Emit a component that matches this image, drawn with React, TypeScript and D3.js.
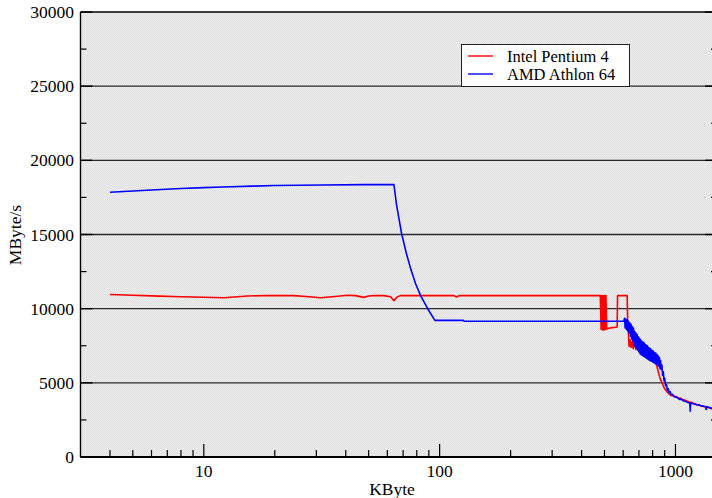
import React from "react";
import * as d3 from "d3";

// ---------- data ----------
const intelKB = [4, 5, 6, 8, 10, 12.2, 15.3, 18.7, 24, 28, 31.3, 36, 40.7, 44, 47.6, 50, 52.5, 58, 62, 64, 66, 68, 100, 115, 118, 121, 200, 300, 400, 480,
  484, 486, 490, 493, 497, 500, 504, 507, 511, 514, 520, 540, 560, 566, 568, 590, 610, 624, 627,
  632, 636, 642, 648, 655, 662, 670, 680, 690, 700, 712, 725, 740, 755, 770, 785, 800, 815, 825, 835, 845, 855, 865, 878, 890, 905, 920, 940, 955, 975,
  1000, 1010, 1030, 1050, 1070, 1090, 1110, 1140, 1170, 1200, 1235, 1270, 1300, 1340, 1380, 1410, 1440];
const intelMBs = [10950, 10900, 10860, 10800, 10770, 10740, 10850, 10890, 10880, 10800, 10740, 10820, 10900, 10880, 10760, 10850, 10880, 10880, 10800, 10540, 10780, 10880, 10880, 10880, 10790, 10880, 10880, 10880, 10880, 10880,
  8600, 10880, 8580, 10880, 8550, 10880, 8600, 10880, 8620, 8650, 8680, 8720, 8750, 8760, 10880, 10880, 10880, 10880, 9150,
  8300, 7450, 7900, 7400, 7800, 7300, 7650, 7250, 7500, 7100, 7300, 6900, 7050, 6750, 6850, 6550, 6600, 6350, 6300, 6100, 5750, 5450, 5200, 5000, 4750, 4550, 4400, 4250, 4150, 4150,
  4050, 4080, 3950, 3970, 3880, 3850, 3800, 3720, 3680, 3600, 3520, 3480, 3420, 3380, 3320, 3280, 3250];

const amdKB = [4, 5, 6, 8, 10, 12, 16, 20, 32, 48, 64, 65.6, 69, 72.2, 75.5, 79, 83.3, 89.5, 95.5, 126, 127, 300, 500,
  604, 608, 612, 616, 620, 624, 628, 632, 636, 640, 644, 648, 652, 656, 660, 664, 668, 672, 676, 680, 684, 688, 692, 696, 700, 704, 708, 712, 716, 720,
  724, 728, 732, 736, 740, 744, 748, 752, 756, 760, 764, 768, 772, 776, 780, 785, 790, 795, 800, 805, 810, 815, 820, 825, 830, 835, 840, 845, 850, 855, 860, 865, 870,
  876, 882, 888, 894, 900, 908, 916, 924, 932, 940, 950, 960, 972, 985,
  1000, 1020, 1040, 1060, 1080, 1100, 1125, 1150, 1155, 1160, 1175, 1200, 1230, 1260, 1290, 1320, 1340, 1350, 1360, 1380, 1400, 1420, 1440];
const amdMBs = [17850, 17930, 18000, 18100, 18160, 18200, 18260, 18300, 18340, 18360, 18370, 17030, 15050, 13750, 12650, 11700, 10830, 9930, 9210, 9210, 9150, 9150, 9150,
  9150, 9350, 8700, 9300, 8600, 9250, 8500, 9150, 8350, 9050, 8150, 8950, 7950, 8800, 7800, 8700, 7500, 8450, 7450, 8350, 7300, 8250, 7200, 8100, 7100, 8000, 6950, 7900, 6900, 7800,
  6850, 7750, 6800, 7700, 6750, 7600, 6700, 7550, 6650, 7500, 6600, 7400, 6550, 7350, 6500, 7300, 6450, 7200, 6400, 7150, 6350, 7050, 6300, 7000, 6250, 6900, 6200, 6800, 6100, 6700, 5950, 6500, 5900,
  6200, 5500, 5750, 5150, 5300, 4800, 4900, 4500, 4600, 4350, 4400, 4200, 4220, 4080,
  4050, 4000, 3880, 3900, 3780, 3760, 3680, 3650, 3080, 3650, 3620, 3580, 3520, 3500, 3440, 3430, 3380, 3200, 3400, 3350, 3340, 3280, 3300];

const yTicks = [0, 5000, 10000, 15000, 20000, 25000, 30000];
const yMinorTicks = [2500, 7500, 12500, 17500, 22500, 27500];
const xMajorTicks = [10, 100, 1000];
const xMinorTicks = [4, 5, 6, 7, 8, 9, 20, 30, 40, 50, 60, 70, 80, 90, 200, 300, 400, 500, 600, 700, 800, 900];
const seriesNames = ["Intel Pentium 4", "AMD Athlon 64"];
const seriesColors = ["#ff0000", "#0000ff"];

// ---------- layout ----------
const W = 712, H = 498;
const L = 80.5, R = 717, T = 12, B = 457;
const FONT = "'Liberation Serif', 'Times New Roman', serif";

export default function App() {
  React.useEffect(() => {
    document.body.style.margin = "0";
  }, []);
  const x = d3.scaleLog().domain([3, 1500]).range([L, R]);
  const y = d3.scaleLinear().domain([0, 30000]).range([B, T]);
  const line = d3.line<[number, number]>().x(d => x(d[0])).y(d => y(d[1]));
  const intel = intelKB.map((k, i) => [k, intelMBs[i]] as [number, number]);
  const amd = amdKB.map((k, i) => [k, amdMBs[i]] as [number, number]);

  return (
    <svg width={W} height={H} style={{ position: "absolute", left: 0, top: 0, display: "block" }} fontFamily={FONT}>
      <defs>
        <pattern id="bgpat" width="2" height="2" patternUnits="userSpaceOnUse">
          <rect width="2" height="2" fill="#f1f1f1" />
          <rect x="0" y="0" width="1" height="1" fill="#dcdcdc" />
          <rect x="1" y="1" width="1" height="1" fill="#dcdcdc" />
        </pattern>
        <clipPath id="plotclip">
          <rect x={L} y={T} width={R - L} height={B - T} />
        </clipPath>
      </defs>
      <rect x={0} y={0} width={W} height={H} fill="#fff" />
      <rect x={L} y={T} width={R - L} height={B - T} fill="url(#bgpat)" />

      {/* grid lines */}
      {yTicks.filter(v => v > 0 && v < 30000).map(v => (
        <line key={"g" + v} x1={L} x2={R} y1={y(v)} y2={y(v)} stroke="#2a2a2a" strokeWidth={1.4} />
      ))}

      {/* y ticks */}
      {yTicks.map(v => (
        <g key={"yt" + v}>
          <line x1={L} x2={L + 12} y1={y(v)} y2={y(v)} stroke="#000" strokeWidth={1.4} />
          <line x1={R - 12} x2={R} y1={y(v)} y2={y(v)} stroke="#000" strokeWidth={1.4} />
          <text x={74} y={y(v)} dy="0.35em" textAnchor="end" fontSize={17.5}>{v}</text>
        </g>
      ))}
      {yMinorTicks.map(v => (
        <g key={"ym" + v}>
          <line x1={L} x2={L + 6} y1={y(v)} y2={y(v)} stroke="#000" strokeWidth={1.2} />
          <line x1={R - 6} x2={R} y1={y(v)} y2={y(v)} stroke="#000" strokeWidth={1.2} />
        </g>
      ))}

      {/* x ticks */}
      {xMajorTicks.map(v => (
        <g key={"xt" + v}>
          <line x1={x(v)} x2={x(v)} y1={B} y2={B - 13} stroke="#000" strokeWidth={1.2} />
          <text x={x(v)} y={477} textAnchor="middle" fontSize={17.5}>{v}</text>
        </g>
      ))}
      {xMinorTicks.map(v => (
        <line key={"xm" + v} x1={x(v)} x2={x(v)} y1={B} y2={B - 7} stroke="#000" strokeWidth={1.2} />
      ))}

      {/* series */}
      <g clipPath="url(#plotclip)">
        <path d={line(intel) || ""} fill="none" stroke={seriesColors[0]} strokeWidth={1.6} strokeLinejoin="round" />
        <path d={line(amd) || ""} fill="none" stroke={seriesColors[1]} strokeWidth={1.6} strokeLinejoin="round" />
      </g>

      {/* frame */}
      <line x1={L} x2={L} y1={T} y2={B} stroke="#000" strokeWidth={1.4} />
      <line x1={L} x2={R} y1={T} y2={T} stroke="#000" strokeWidth={1.4} />
      <line x1={L} x2={R} y1={B} y2={B} stroke="#000" strokeWidth={2} />

      {/* axis titles */}
      <text x={392} y={495} textAnchor="middle" fontSize={17.5}>KByte</text>
      <text transform="translate(21,235) rotate(-90)" textAnchor="middle" fontSize={17.5}>MByte/s</text>

      {/* legend */}
      <g>
        <rect x={461.5} y={44.5} width={168} height={42} fill="#fff" stroke="#222" strokeWidth={1} />
        {seriesNames.map((n, i) => (
          <g key={n}>
            <line x1={468} x2={493} y1={56 + i * 18} y2={56 + i * 18} stroke={seriesColors[i]} strokeWidth={1.4} />
            <text x={507} y={56 + i * 18} dy="0.35em" fontSize={16.5}>{n}</text>
          </g>
        ))}
      </g>
    </svg>
  );
}
